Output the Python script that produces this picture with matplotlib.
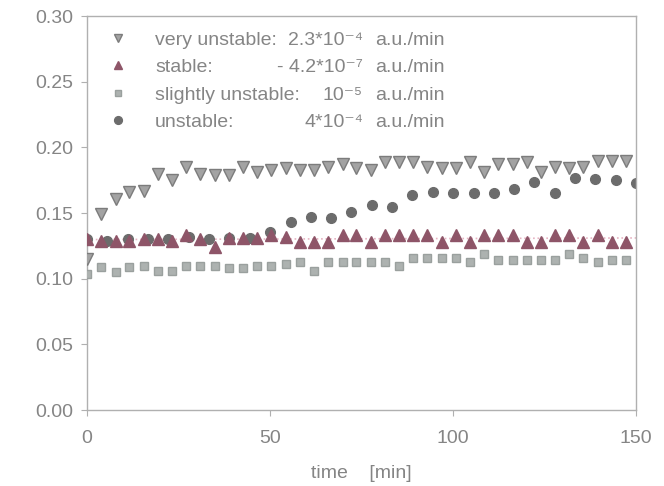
import matplotlib
matplotlib.use("Agg")
import matplotlib.pyplot as plt
from matplotlib.transforms import IdentityTransform
import numpy as np

# sampling times [min]
t_fast = [0.0, 3.9, 7.8, 11.6, 15.5, 19.4, 23.3, 27.1, 31.0, 34.9, 38.8, 42.6, 46.5,
          50.4, 54.3, 58.1, 62.0, 65.9, 69.8, 73.6, 77.5, 81.4, 85.3, 89.1, 93.0, 96.9,
          100.8, 104.6, 108.5, 112.4, 116.3, 120.1, 124.0, 127.9, 131.8, 135.6, 139.5,
          143.4, 147.3]
t_slow = [0.0, 5.6, 11.1, 16.7, 22.2, 27.8, 33.3, 38.9, 44.4, 50.0, 55.6, 61.1, 66.7,
          72.2, 77.8, 83.3, 88.9, 94.4, 100.0, 105.6, 111.1, 116.7, 122.2, 127.8, 133.3,
          138.9, 144.4, 150.0]

very_unstable = [0.115, 0.149, 0.161, 0.166, 0.167, 0.180, 0.175, 0.185, 0.180, 0.179,
                 0.179, 0.185, 0.181, 0.183, 0.184, 0.183, 0.183, 0.185, 0.187, 0.184,
                 0.183, 0.189, 0.189, 0.189, 0.185, 0.184, 0.184, 0.189, 0.181, 0.187,
                 0.187, 0.189, 0.181, 0.185, 0.184, 0.185, 0.190, 0.190, 0.190]
stable = [0.130, 0.129, 0.129, 0.129, 0.130, 0.130, 0.129, 0.133, 0.130, 0.124,
          0.131, 0.131, 0.131, 0.133, 0.132, 0.128, 0.128, 0.128, 0.133, 0.133,
          0.128, 0.133, 0.133, 0.133, 0.133, 0.128, 0.133, 0.128, 0.133, 0.133,
          0.133, 0.128, 0.128, 0.133, 0.133, 0.128, 0.133, 0.128, 0.128]
slightly_unstable = [0.104, 0.109, 0.105, 0.109, 0.110, 0.106, 0.106, 0.110, 0.110, 0.110,
                     0.108, 0.108, 0.110, 0.110, 0.111, 0.113, 0.106, 0.113, 0.113, 0.113,
                     0.113, 0.113, 0.110, 0.1155, 0.1155, 0.1155, 0.1155, 0.113, 0.119, 0.114,
                     0.114, 0.114, 0.114, 0.114, 0.119, 0.1155, 0.113, 0.114, 0.114]
unstable = [0.130, 0.129, 0.130, 0.130, 0.130, 0.132, 0.130, 0.131, 0.131, 0.136,
            0.143, 0.147, 0.146, 0.151, 0.156, 0.155, 0.164, 0.166, 0.165, 0.165,
            0.165, 0.168, 0.174, 0.165, 0.1765, 0.176, 0.175, 0.173]

names = ["very unstable:", "stable:", "slightly unstable:", "unstable:"]
rates = ["2.3*10⁻⁴", "- 4.2*10⁻⁷", "10⁻⁵", "4*10⁻⁴"]
unit = "a.u./min"

plt.rcParams['font.family'] = ['Liberation Sans', 'DejaVu Sans']
text_col = '#858585'
spine_col = '#b0b0b0'
fs = 14

fig = plt.figure(figsize=(6.64, 4.86), dpi=100)
ax = fig.add_axes([0.131, 0.156, 0.827, 0.811])

h4, = ax.plot(t_slow, unstable, 'o', ms=7, color='#6c6c6c', mec='#6c6c6c', zorder=2)
# faint fit through the stable series
coef = np.polyfit(t_fast, stable, 1)
ax.plot([0, 150], np.polyval(coef, [0, 150]), ':', color='#e6b3c2', lw=1.2, zorder=1)
h1, = ax.plot(t_fast, very_unstable, 'v', ms=8, color='#a3a3a3', mec='#7c7c7c', zorder=3)
h3, = ax.plot(t_fast, slightly_unstable, 's', ms=6, color='#adb2b0', mec='#9aa09e', zorder=3)
h2, = ax.plot(t_fast, stable, '^', ms=8, color='#8e5568', mec='#8e5568', zorder=4)

ax.set_xlim(0, 150)
ax.set_ylim(0, 0.30)
ax.set_xticks([0, 50, 100, 150])
ax.set_yticks(np.arange(0, 0.31, 0.05))
ax.yaxis.set_major_formatter(plt.FormatStrFormatter('%.2f'))
ax.tick_params(axis='both', direction='out', length=4, color=spine_col,
               labelcolor=text_col, labelsize=fs)
ax.tick_params(axis='x', pad=10)
ax.tick_params(axis='y', pad=6)
for sp in ax.spines.values():
    sp.set_color(spine_col)
    sp.set_linewidth(1.0)

ax.set_xlabel('time    [min]', fontsize=fs, color=text_col, labelpad=13)

leg = ax.legend([h1, h2, h3, h4], names, loc='upper left', frameon=False,
                fontsize=fs, labelspacing=0.51, handletextpad=0.9, handlelength=2.0,
                borderaxespad=0, borderpad=0.4, bbox_to_anchor=(0.007, 0.982),
                markerscale=0.8)
for txt in leg.get_texts():
    txt.set_color(text_col)

# rate values right-aligned, units in a column, on the legend rows
fig.canvas.draw()
renderer = fig.canvas.get_renderer()
for txt, rate in zip(leg.get_texts(), rates):
    bb = txt.get_window_extent(renderer)
    yc = 0.5 * (bb.y0 + bb.y1)
    fig.text(363, yc, rate, transform=IdentityTransform(), ha='right', va='center',
             fontsize=fs, color=text_col)
    fig.text(375, yc, unit, transform=IdentityTransform(), ha='left', va='center',
             fontsize=fs, color=text_col)

fig.savefig('out.png', dpi=100)
